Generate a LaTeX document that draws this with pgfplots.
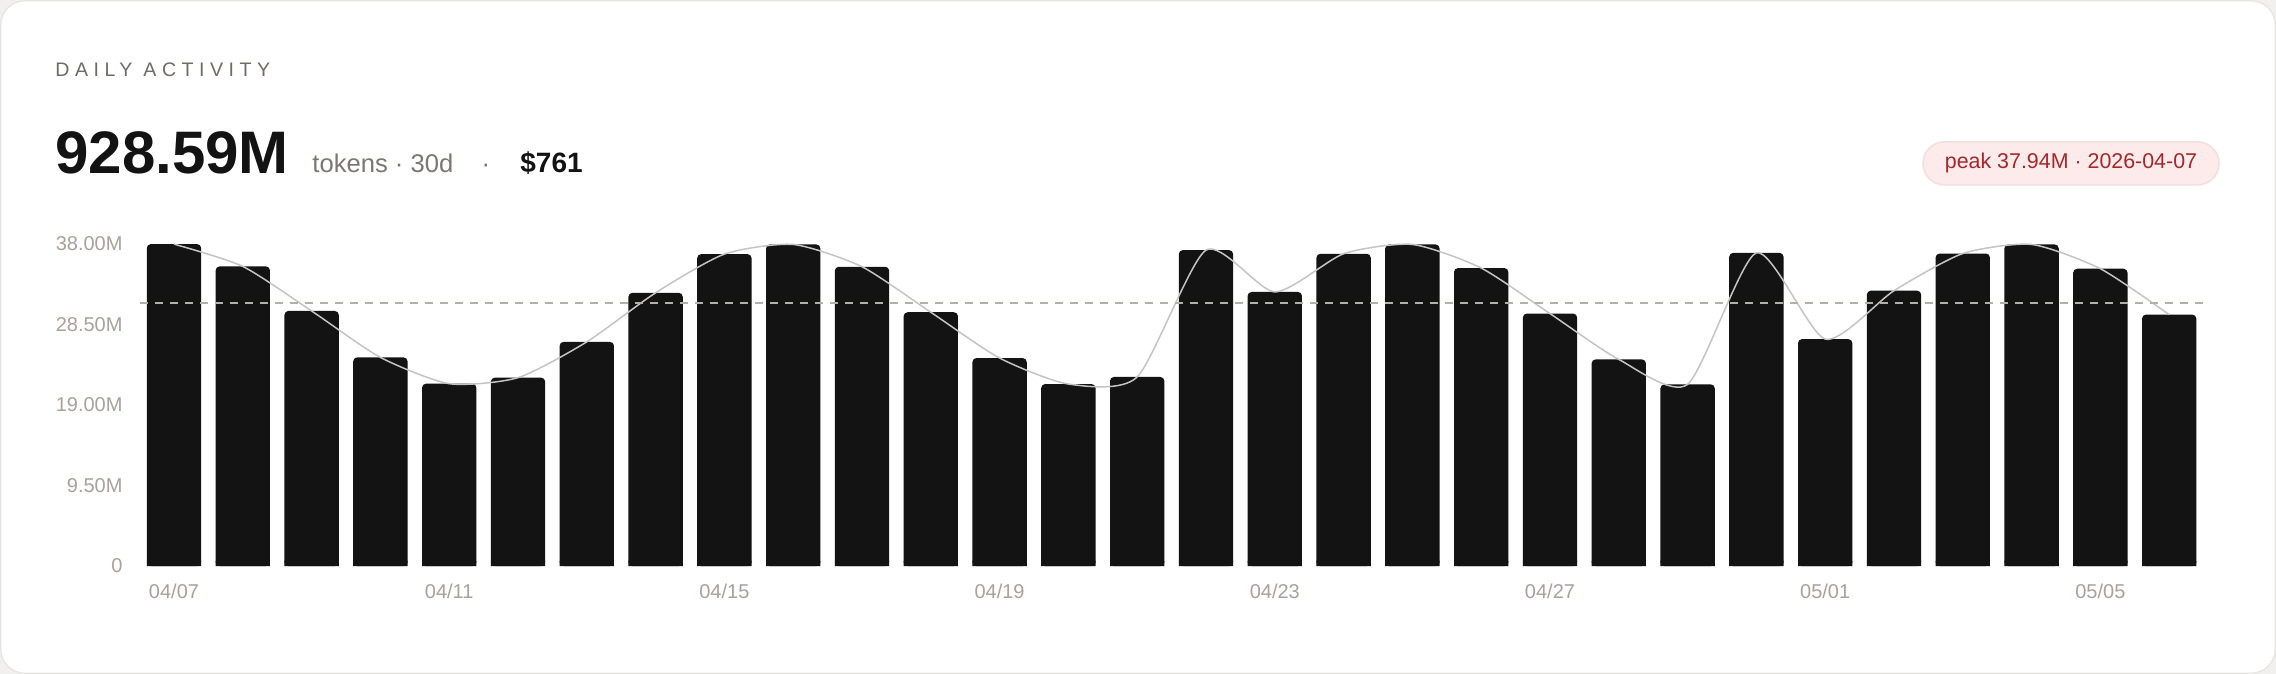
\documentclass[border=0pt]{standalone}
\usepackage{fontspec}
\setmainfont{Liberation Sans}
\usepackage{pgfplots}
\usepackage{pgfplotstable}
\pgfplotsset{compat=1.18}

\definecolor{PageBg}{HTML}{F1F0EE}
\definecolor{CardEdge}{HTML}{E6E4E1}
\definecolor{BarInk}{HTML}{131313}
\definecolor{Trend}{HTML}{C6C4C2}
\definecolor{MeanLine}{HTML}{B3AFAB}
\definecolor{TickInk}{HTML}{A9A19B}
\definecolor{TitleInk}{HTML}{6F6B67}
\definecolor{SubInk}{HTML}{7C7772}
\definecolor{PillFill}{HTML}{FCEBEA}
\definecolor{PillEdge}{HTML}{F0E0DF}
\definecolor{PillInk}{HTML}{A3282B}

% daily tokens, millions
\pgfplotstableread{
day tok
0 37.94
1 35.31
2 30.06
3 24.59
4 21.49
5 22.20
6 26.42
7 32.20
8 36.76
9 37.90
10 35.27
11 29.91
12 24.51
13 21.45
14 22.28
15 37.23
16 32.30
17 36.80
18 37.90
19 35.12
20 29.75
21 24.35
22 21.41
23 36.91
24 26.74
25 32.45
26 36.83
27 37.90
28 35.04
29 29.63
}\daily

\begin{document}
\begin{tikzpicture}
  \fill[PageBg] (0,0) rectangle (1138pt,-337pt);
  \draw[CardEdge, fill=white, line width=0.6pt, rounded corners=12pt]
    (0.4pt,-0.4pt) rectangle (1137.6pt,-336.6pt);

  \node[anchor=base west, inner sep=0, text=TitleInk, font=\fontsize{9.8}{10}\selectfont\addfontfeature{LetterSpace=28}]
    at (27.5pt,-38.5pt) {DAILY ACTIVITY};
  \node[anchor=base west, inner sep=0, text=BarInk, font=\fontsize{30}{31}\selectfont\bfseries]
    at (27.5pt,-86.5pt) {928.59M};
  \node[anchor=base west, inner sep=0, text=SubInk, font=\fontsize{12.8}{13}\selectfont]
    at (156pt,-86pt) {tokens · 30d};
  \node[anchor=base, inner sep=0, text=SubInk, font=\fontsize{12.8}{13}\selectfont]
    at (243pt,-86pt) {·};
  \node[anchor=base west, inner sep=0, text=BarInk, font=\fontsize{14}{15}\selectfont\bfseries]
    at (260pt,-86pt) {\$761};

  \node[draw=PillEdge, fill=PillFill, line width=0.8pt, rounded corners=10.7pt,
        minimum width=148pt, minimum height=21.5pt, inner sep=0,
        text=PillInk, font=\fontsize{10.7}{11}\selectfont]
    at (1035.5pt,-81.7pt) {peak 37.94M · 2026-04-07};

  \begin{axis}[
      at={(69.8pt,-283pt)}, anchor=south west,
      scale only axis, width=1032pt, height=161.2pt,
      xmin=-0.5, xmax=29.5, ymin=0, ymax=38,
      clip=false,
      axis line style={draw=none},
      major tick length=0pt,
      xtick={0,4,...,28},
      xticklabels={04/07,04/11,04/15,04/19,04/23,04/27,05/01,05/05},
      ytick={0,9.5,19,28.5,38},
      yticklabels={0,9.50M,19.00M,28.50M,38.00M},
      tick label style={font=\fontsize{10}{11}\selectfont, text=TickInk},
      xticklabel style={yshift=-5.6pt},
      yticklabel style={xshift=-5pt},
    ]
    \addplot[ybar, bar width=0.79, bar shift=0pt, fill=BarInk, draw=none, rounded corners=2pt]
      table[x=day, y=tok] {\daily};
    % squares off the bottom corners
    \addplot[ybar, bar width=0.79, bar shift=0pt, fill=BarInk, draw=none]
      table[x=day, y expr=0.6] {\daily};
    \addplot[Trend, line width=0.75pt, smooth, tension=0.4, mark=none]
      table[x=day, y=tok] {\daily};
    \addplot[MeanLine, line width=1pt, dash pattern=on 4pt off 3.5pt]
      coordinates {(-0.5,30.95) (29.5,30.95)};
  \end{axis}

  \pgfresetboundingbox
  \path[use as bounding box] (0,0) rectangle (1138pt,-337pt);
\end{tikzpicture}
\end{document}
